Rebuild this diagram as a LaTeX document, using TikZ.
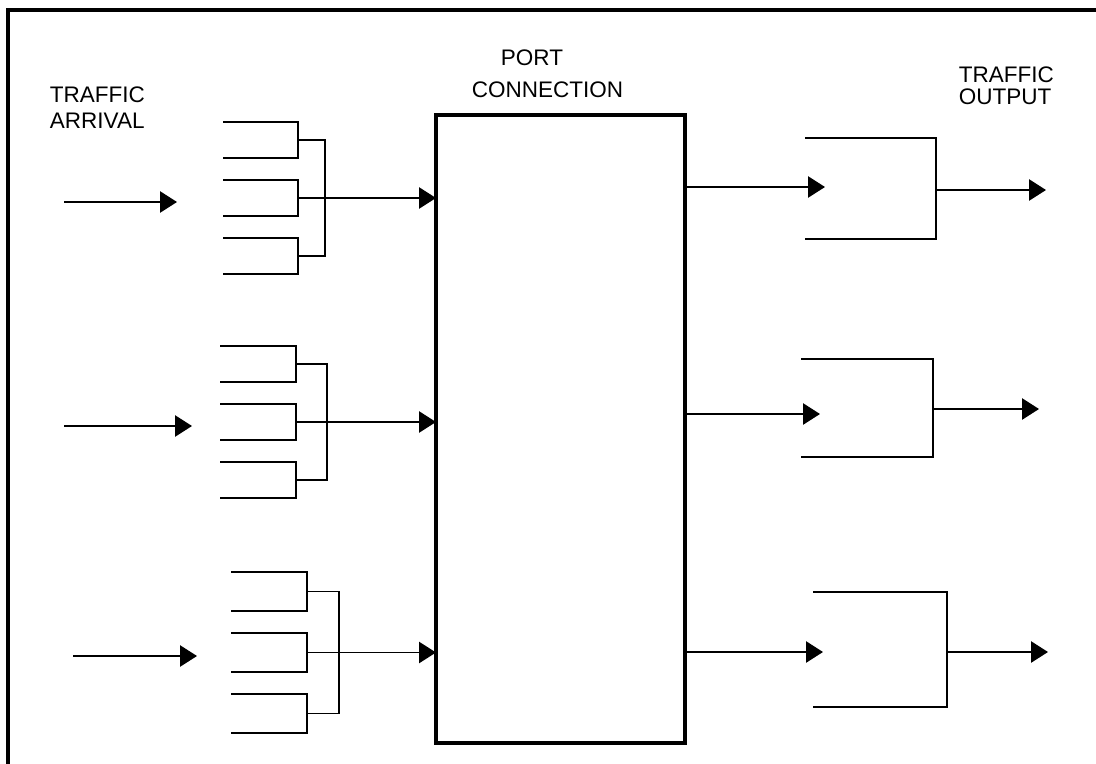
\documentclass[tikz,border=0pt]{standalone}
\usepackage{fontspec}
\setsansfont{Liberation Sans}
\usetikzlibrary{arrows.meta,calc}

\begin{document}
\begin{tikzpicture}[x=0.025cm, y=-0.025cm, line width=1.3pt,
  font=\sffamily\fontsize{16}{19}\selectfont,
  flow/.style={-{Triangle[length=12pt,width=15pt]}},
  caption/.style={anchor=base west, inner sep=0pt}]
  \useasboundingbox (0,0) rectangle (1096,763);

  % Outer frame (runs off the sheet right and bottom)
  \draw[line width=2.2pt] (8,800) -- (8,10) -- (1120,10);

  % Port connection block
  \coordinate (portNW) at (436,115);
  \coordinate (portSE) at (685,743);
  \draw[line width=2.8pt] (portNW) rectangle (portSE);

  % Labels
  \node[caption] (arrivalA) at (49,102) {TRAFFIC};
  \node[caption] (arrivalB) at (49,128) {ARRIVAL};
  \node[caption] (portA) at (500,65) {PORT};
  \node[caption] (portB) at (471,97) {CONNECTION};
  \node[caption] (outputA) at (958,82) {TRAFFIC};
  \node[caption] (outputB) at (958,104) {OUTPUT};

  % Input side: arrival arrow, three queues merged onto one port line
  \foreach \g/\ax/\ay/\atip/\bl/\br/\vx/\bt/\bs/\bh in
    {1/64/202/177/223/298/325/122/58/36,
     2/64/426/192/220/296/327/346/58/36,
     3/73/656/197/231/307/339/572/61/39}{
    \coordinate (arr\g) at (\ax,\ay);
    \coordinate (arrtip\g) at (\atip,\ay);
    \draw[flow] (arr\g) -- (arrtip\g);
    \foreach \k in {0,1,2}
      \draw (\bl,{\bt+\k*\bs}) -| (\br,{\bt+\k*\bs+\bh}) -- (\bl,{\bt+\k*\bs+\bh});
    \coordinate (qa\g) at (\br,{\bt+\bh/2});
    \coordinate (qb\g) at (\br,{\bt+\bs+\bh/2});
    \coordinate (qc\g) at (\br,{\bt+2*\bs+\bh/2});
    \draw (qa\g) -| (\vx,{\bt+2*\bs+\bh/2}) -- (qc\g);
    \draw[flow] (qb\g) -- (qb\g -| portNW);
  }

  % Output side: port line, one queue, departure arrow
  \foreach \g/\iy/\itip/\bl/\br/\bt/\bb/\oy/\otip in
    {1/187/825/805/936/138/239/190/1046,
     2/414/820/801/933/359/457/409/1039,
     3/652/823/813/947/592/707/652/1048}{
    \coordinate (out\g) at (\itip,\iy);
    \draw[flow] (out\g -| portSE) -- (out\g);
    \draw (\bl,\bt) -| (\br,\bb) -- (\bl,\bb);
    \coordinate (srv\g) at (\br,\oy);
    \coordinate (dep\g) at (\otip,\oy);
    \draw[flow] (srv\g) -- (dep\g);
  }
\end{tikzpicture}
\end{document}
